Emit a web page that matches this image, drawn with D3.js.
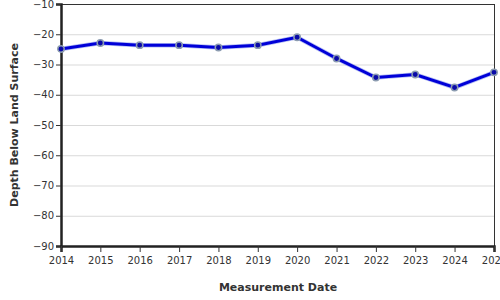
<!DOCTYPE html>
<html>
<head>
<meta charset="utf-8">
<script src="https://cdn.jsdelivr.net/npm/d3@7"></script>
<style>
  body { margin: 0; background: #fff; }
  text { font-family: "DejaVu Sans", sans-serif; }
</style>
</head>
<body>
<div id="chart"></div>
<script>
// measurement years and depth below land surface (ft)
const years = [2014, 2015, 2016, 2017, 2018, 2019, 2020, 2021, 2022, 2023, 2024, 2025];
const depths = [-24.9, -22.9, -23.6, -23.6, -24.4, -23.6, -21.0, -28.0, -34.3, -33.3, -37.6, -32.6];
const yTicks = [-10, -20, -30, -40, -50, -60, -70, -80, -90];
const xTicks = [2014, 2015, 2016, 2017, 2018, 2019, 2020, 2021, 2022, 2023, 2024, 2025];

const W = 500, H = 300;
const margin = { top: 4, right: 5, bottom: 54, left: 61 };
const width = W - margin.left - margin.right;
const height = H - margin.top - margin.bottom;

const data = years.map((yr, i) => ({ date: new Date(yr, 0, 1), depth: depths[i] }));

const svg = d3.select("#chart")
  .append("svg")
  .attr("width", W)
  .attr("height", H);

const g = svg.append("g")
  .attr("transform", `translate(${margin.left}, ${margin.top})`);

const x = d3.scaleTime()
  .domain([new Date(2014, 0, 1), new Date(2025, 0, 1)])
  .range([0, width - 1]);
const y = d3.scaleLinear().domain([-90, -10]).range([height, 0]);

// grid
g.selectAll(".grid")
  .data(yTicks)
  .join("line")
  .attr("class", "grid")
  .attr("x1", 0)
  .attr("x2", width)
  .attr("y1", (d) => y(d) + 0.5)
  .attr("y2", (d) => y(d) + 0.5)
  .attr("stroke", "#d9d9d9")
  .attr("stroke-width", 1);

// frame top / right
g.append("line")
  .attr("x1", 0).attr("x2", width)
  .attr("y1", 0.5).attr("y2", 0.5)
  .attr("stroke", "#333");
g.append("line")
  .attr("x1", width - 0.5).attr("x2", width - 0.5)
  .attr("y1", 0).attr("y2", height)
  .attr("stroke", "#333");

// y axis
const yAxis = g.append("g")
  .call(d3.axisLeft(y).tickValues(yTicks).tickSize(5).tickPadding(2));
yAxis.select(".domain").attr("stroke", "#222").attr("stroke-width", 2.5);
yAxis.selectAll(".tick line").attr("stroke", "#333");
yAxis.selectAll(".tick text")
  .attr("fill", "#333")
  .style("font-size", "10px");

// x axis
const xAxis = g.append("g")
  .attr("transform", `translate(0, ${height})`)
  .call(d3.axisBottom(x)
    .tickValues(xTicks.map((yr) => new Date(yr, 0, 1)))
    .tickFormat(d3.timeFormat("%Y"))
    .tickSize(6)
    .tickPadding(5));
xAxis.select(".domain").attr("stroke", "#222").attr("stroke-width", 2.5);
xAxis.selectAll(".tick line").attr("stroke", "#333");
xAxis.selectAll(".tick text")
  .attr("fill", "#333")
  .style("font-size", "10px");

// axis titles
svg.append("text")
  .attr("x", margin.left + width / 2)
  .attr("y", 291)
  .attr("text-anchor", "middle")
  .attr("fill", "#333")
  .style("font-size", "11px")
  .style("font-weight", "bold")
  .text("Measurement Date");

svg.append("text")
  .attr("transform", `translate(18, ${margin.top + height / 2}) rotate(-90)`)
  .attr("text-anchor", "middle")
  .attr("fill", "#333")
  .style("font-size", "11px")
  .style("font-weight", "bold")
  .text("Depth Below Land Surface");

// line
const line = d3.line()
  .x((d) => x(d.date))
  .y((d) => y(d.depth));

g.append("path")
  .datum(data)
  .attr("fill", "none")
  .attr("stroke", "#6b7de8")
  .attr("stroke-width", 4.5)
  .attr("stroke-opacity", 0.5)
  .attr("d", line);

g.append("path")
  .datum(data)
  .attr("fill", "none")
  .attr("stroke", "#0000d8")
  .attr("stroke-width", 3)
  .attr("d", line);

// points
g.selectAll(".pt")
  .data(data)
  .join("circle")
  .attr("class", "pt")
  .attr("cx", (d) => x(d.date))
  .attr("cy", (d) => y(d.depth))
  .attr("r", 3.2)
  .attr("fill", "#0a0aa8")
  .attr("stroke", "#8c9cb0")
  .attr("stroke-width", 1.5);
</script>
</body>
</html>
